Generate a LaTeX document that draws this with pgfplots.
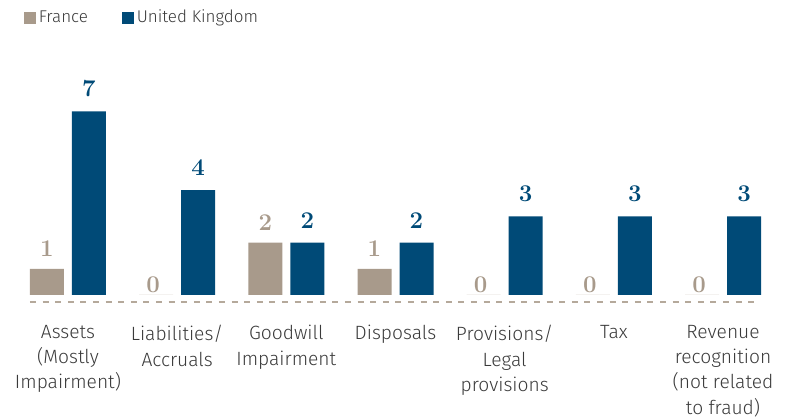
\documentclass[border=0pt]{standalone}
\usepackage{fontspec}
\setsansfont{Fira Sans Light}
\usepackage{pgfplots}
\pgfplotsset{compat=1.18}
\definecolor{fr}{HTML}{A89A8B}
\definecolor{uk}{HTML}{004A77}
\definecolor{txt}{HTML}{3A3A3A}
\definecolor{dashc}{HTML}{B5A99B}
\begin{document}
\begin{tikzpicture}
\path[use as bounding box] (-6.7pt,-57.5pt) rectangle (386.8pt,151pt);
\begin{axis}[
  at={(0,0)}, anchor=south west,
  scale only axis, width=382.1pt, height=111pt,
  xmin=-0.5, xmax=6.5, ymin=-0.267, ymax=8.2,
  axis line style={draw=none}, major tick length=0pt,
  ytick=\empty,
  xtick={0,1,2,3,4,5,6},
  xticklabels={{Assets\\(Mostly\\Impairment)},{Liabilities/\\Accruals},{Goodwill\\Impairment},{Disposals},{Provisions/\\Legal\\provisions},{Tax},{Revenue\\recognition\\(not related\\to fraud)}},
  xticklabel style={font=\sffamily\fontsize{9.6}{12.6}\selectfont, text=txt, align=center, inner sep=0pt, anchor=north, yshift=-11.5pt},
  clip=false,
  /pgf/number format/assume math mode=true,
  legend style={at={(0.0139,1.279)}, anchor=west, draw=none, fill=none, legend columns=2,
    font=\sffamily\fontsize{8.5}{10}\selectfont, text=txt, inner sep=0pt,
    nodes={inner sep=1.2pt},
    /tikz/every even column/.append style={column sep=16pt}},
  legend cell align=left,
  legend image code/.code={\fill[#1] (0.6pt,-3pt) rectangle (6.6pt,3pt);},
]
\addplot[ybar, bar width=17pt, bar shift=-10.5pt, fill=fr, draw=none,
  nodes near coords,
  every node near coord/.append style={font=\rmfamily\bfseries\fontsize{12}{14}\selectfont, text=fr, inner sep=0pt, anchor=south, xshift=-10.5pt, yshift=6pt}]
  coordinates {(0,1) (2,2) (3,1)};
\addlegendentry{France}
\addplot[ybar, bar width=17pt, bar shift=10.5pt, fill=uk, draw=none,
  nodes near coords,
  every node near coord/.append style={font=\rmfamily\bfseries\fontsize{12}{14}\selectfont, text=uk, inner sep=0pt, anchor=south, xshift=10.5pt, yshift=7pt}]
  coordinates {(0,7) (1,4) (2,2) (3,2) (4,3) (5,3) (6,3)};
\addlegendentry{United Kingdom}
\addplot[ybar, bar width=17pt, bar shift=-10.5pt, fill=fr, draw=none, forget plot,
  nodes near coords,
  every node near coord/.append style={font=\rmfamily\bfseries\fontsize{12}{14}\selectfont, text=fr, inner sep=0pt, anchor=south, xshift=-12pt, yshift=1pt}]
  coordinates {(1,0) (4,0) (5,0) (6,0)};
\draw[dashc, line width=1pt, dash pattern=on 3pt off 3.3pt] (axis cs:-0.348,-0.267) -- (axis cs:6.346,-0.267);
\end{axis}
\end{tikzpicture}
\end{document}
